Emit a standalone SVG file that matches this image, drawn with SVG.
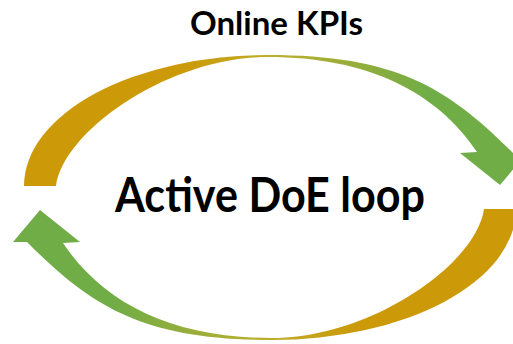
<svg xmlns="http://www.w3.org/2000/svg" width="513" height="344" viewBox="0 0 513 344">
  <defs>
    <linearGradient id="gold-green" x1="0" y1="0" x2="1" y2="0">
      <stop offset="0" stop-color="#CC9A08"/>
      <stop offset="0.32" stop-color="#CC9A08"/>
      <stop offset="0.5" stop-color="#BCAE2C"/>
      <stop offset="0.8" stop-color="#71AD47"/>
      <stop offset="1" stop-color="#70AD47"/>
    </linearGradient>
  </defs>
  <style>
    .arrow { fill: url(#gold-green); stroke: none; }
    .label { font-family: Lato, "Open Sans", "Liberation Sans", sans-serif; font-weight: bold; fill: #000000; }
  </style>
  <rect width="513" height="344" fill="#FFFFFF"/>
  <g id="connectors">
    <path id="arrow-top" class="arrow" d="M24,186 A244,131 0 0 1 268,55 C398,55 449,89 513,153 L527,153 L500,185 L460,153 L477,152 C437,92 368,57 268,57 C170,57 64,130 56,186 Z"/>
    <path id="arrow-bottom" class="arrow" transform="rotate(180 270 197.5)" d="M24,186 A244,131 0 0 1 268,55 C398,55 449,89 513,153 L527,153 L500,185 L460,153 L477,152 C437,92 368,57 268,57 C170,57 64,130 56,186 Z"/>
  </g>
  <g id="online-kpis">
    <text class="label" x="190" y="35" font-size="32" textLength="173" lengthAdjust="spacingAndGlyphs">Online KPIs</text>
  </g>
  <g id="active-doe-loop">
    <text class="label" x="115" y="212" font-size="47" textLength="310" lengthAdjust="spacingAndGlyphs">Active DoE loop</text>
  </g>
</svg>
